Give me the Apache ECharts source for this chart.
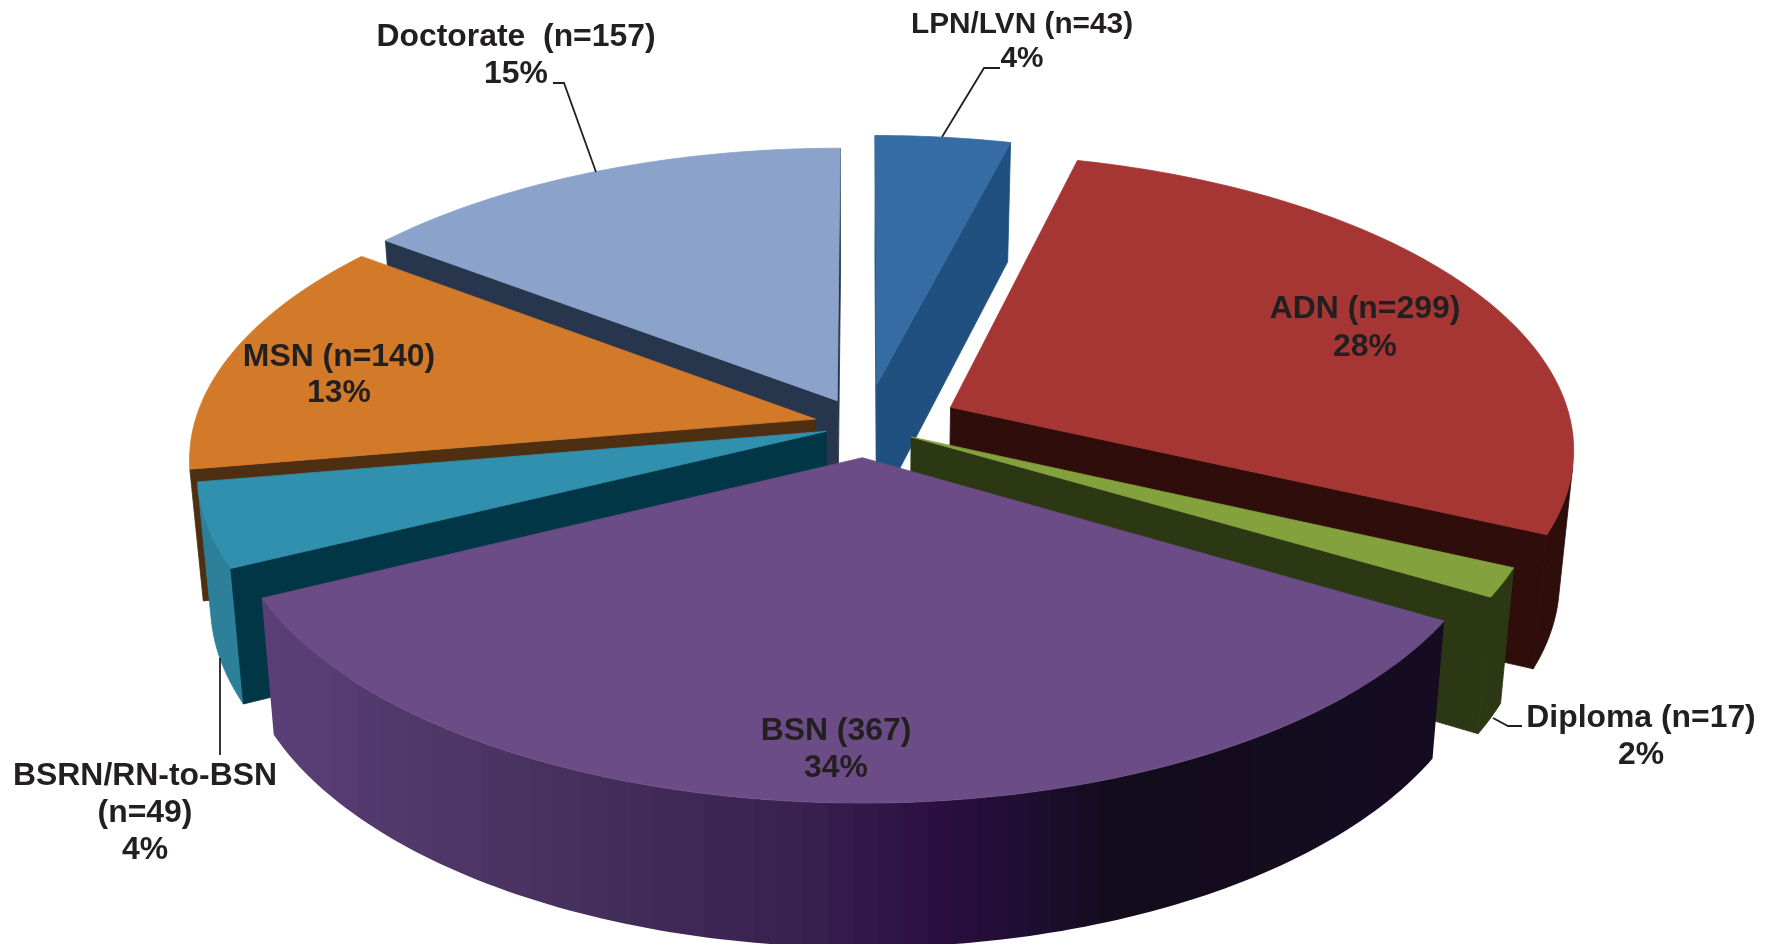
<!DOCTYPE html>
<html>
<head>
<meta charset="utf-8">
<title>Education level</title>
<style>
  html,body{margin:0;padding:0;background:#fff;}
  #main{width:1773px;height:944px;}
</style>
<script src="https://cdn.jsdelivr.net/npm/echarts@6/dist/echarts.min.js"></script>
</head>
<body>
<div id="main"></div>
<script>
// values, clockwise from 12 o'clock
const categories=['LPN/LVN','ADN','Diploma','BSN','BSRN/RN-to-BSN','MSN','Doctorate'];
const counts=[43,299,17,367,49,140,157];
const percents=['4%','28%','2%','34%','4%','13%','15%'];
const nameLines=[['LPN/LVN (n=43)'],['ADN (n=299)'],['Diploma (n=17)'],['BSN (367)'],['BSRN/RN-to-BSN','(n=49)'],['MSN (n=140)'],['Doctorate  (n=157)']];

// how far each slice is pulled out of the disc (disc radius = 1)
const pullU=[0.0225,0.142,0.077,-0.001,-0.059,-0.077,-0.042];
const pullV=[-0.138,-0.058,0.044,0.114,0.025,-0.017,-0.081];
const topColors=['#366ca4','#a53634','#83a23e','#6b4c87','#3090ad','#d27a2a','#8ba2ca'];
const wallColors=['#1f5080','#2e0d0a','#2c3714','#120a20','#003645','#4f2f12','#27354d'];
const rimColors=['#1f5080','#2e0d0a','#2c3714',null,'#2d8099','#4f2f12','#27354d'];
const bsnRimStops=[[0,'#5a3f76'],[0.25,'#46305d'],[0.45,'#38204f'],[0.56,'#2c0f42'],[0.65,'#1c0d2e'],[0.71,'#130c1c'],[1,'#150c22']];
const drawOrder=[0,6,1,5,4,2,3];

// label anchor x, first line y, leader line
const labelX=[1022,1365,1641,836,145,339,516];
const labelY=[25,309,718,731,776,357,37];
const labelPct=[59,347,755,768,850,393,74];
const labelSize=[29.8,31.9,31.9,31.9,31.9,31.9,31.9];
const leaders=[
  [[1000,68],[984,68],[942,137]],
  null,
  [[1522,726],[1508,726],[1493,718]],
  null,
  [[220,658],[220,755]],
  null,
  [[553,83],[564,83],[596,172]]
];

// projection of the tilted disc
const cx=863,cy=424,rx=621,ry=291,persp=0.13,depth=130,shrink=0.98;
const total=counts.reduce(function(a,b){return a+b},0);

function project(u,v,low){
  let s=1/(1-persp*v);
  let x=rx*u*s, y=ry*v*s;
  if(low){
    return [cx+x*shrink, cy+y*shrink+depth*s];
  }
  return [cx+x, cy+y];
}
function angleOf(i){
  let sum=0;
  for(let k=0;k<i;k++) sum+=counts[k];
  return sum/total*Math.PI*2;
}
function rimPoint(i,a,low){
  return project(pullU[i]+Math.sin(a), pullV[i]-Math.cos(a), low);
}
function apexPoint(i,low){
  return project(pullU[i], pullV[i], low);
}
function area(p){
  let t=0;
  for(let i=0;i<p.length;i++){
    let q=p[(i+1)%p.length];
    t+=p[i][0]*q[1]-q[0]*p[i][1];
  }
  return t/2;
}
function hexMix(c1,c2,t){
  let a=parseInt(c1.slice(1),16),b=parseInt(c2.slice(1),16);
  let ch=function(sh){
    let x=(a>>sh)&255,y=(b>>sh)&255;
    return Math.round(x+(y-x)*t);
  };
  return 'rgb('+ch(16)+','+ch(8)+','+ch(0)+')';
}
function bsnColorAt(t){
  for(let i=1;i<bsnRimStops.length;i++){
    if(t<=bsnRimStops[i][0]){
      let a=bsnRimStops[i-1],b=bsnRimStops[i];
      return hexMix(a[1],b[1],(t-a[0])/(b[0]-a[0]));
    }
  }
  return bsnRimStops[bsnRimStops.length-1][1];
}
// the BSN wall darkens from left to right in vertical bands
function bsnGradient(){
  let bands=48,stops=[];
  for(let k=0;k<bands;k++){
    let c=bsnColorAt(k/bands);
    stops.push({offset:k/bands,color:c});
    stops.push({offset:(k+1)/bands,color:c});
  }
  return new echarts.graphic.LinearGradient(258,0,1448,0,stops,true);
}
function poly(points,fill){
  let isSolid=typeof fill==='string';
  return {type:'polygon',shape:{points:points},style:{fill:fill,stroke:isSolid?fill:null,lineWidth:0.8}};
}

function renderSlice(params,api){
  let i=api.value(0);
  let a0=angleOf(i),a1=angleOf(i+1);
  let children=[];
  let steps=Math.max(4,Math.round((a1-a0)/(Math.PI/180)));

  // curved outer wall, only the part facing the viewer
  let upper=[],lower=[];
  for(let k=0;k<steps;k++){
    let p=a0+(a1-a0)*k/steps,q=a0+(a1-a0)*(k+1)/steps;
    let quad=[rimPoint(i,p),rimPoint(i,q),rimPoint(i,q,true),rimPoint(i,p,true)];
    if(area(quad)<0){
      if(upper.length===0){
        upper.push(quad[0]);
        lower.push(quad[3]);
      }
      upper.push(quad[1]);
      lower.push(quad[2]);
    }
  }
  if(upper.length){
    children.push(poly(upper.concat(lower.reverse()),rimColors[i]||bsnGradient()));
  }
  // the two cut faces
  let startFace=[apexPoint(i),rimPoint(i,a0),rimPoint(i,a0,true),apexPoint(i,true)];
  if(area(startFace)<0) children.push(poly(startFace,wallColors[i]));
  let endFace=[apexPoint(i),rimPoint(i,a1),rimPoint(i,a1,true),apexPoint(i,true)];
  if(area(endFace)>0) children.push(poly(endFace,wallColors[i]));
  // top
  let top=[apexPoint(i)];
  for(let k=0;k<=steps;k++) top.push(rimPoint(i,a0+(a1-a0)*k/steps));
  children.push(poly(top,topColors[i]));
  return {type:'group',children:children};
}

function renderLabel(params,api){
  let i=api.value(0);
  let children=[];
  let font='bold '+labelSize[i]+'px "Liberation Sans", Arial, sans-serif';
  let lines=nameLines[i];
  lines.forEach(function(t,k){
    children.push({type:'text',style:{text:t,x:labelX[i],y:labelY[i]+k*37,font:font,fill:'#231f20',textAlign:'center',textVerticalAlign:'middle'}});
  });
  children.push({type:'text',style:{text:percents[i],x:labelX[i],y:labelPct[i],font:font,fill:'#231f20',textAlign:'center',textVerticalAlign:'middle'}});
  if(leaders[i]){
    children.push({type:'polyline',shape:{points:leaders[i]},style:{stroke:'#231f20',lineWidth:1.8,fill:null}});
  }
  return {type:'group',children:children};
}

let chart=echarts.init(document.getElementById('main'));
let option={
  animation:false,
  backgroundColor:'#fff',
  series:[
    {
      type:'custom',
      coordinateSystem:'none',
      renderItem:renderSlice,
      data:drawOrder.map(function(i){return {name:categories[i],value:[i,counts[i]]}}),
      z:1
    },
    {
      type:'custom',
      coordinateSystem:'none',
      renderItem:renderLabel,
      data:categories.map(function(n,i){return {name:n,value:[i,counts[i]]}}),
      z:2
    }
  ]
};
chart.setOption(option);
</script>
</body>
</html>
